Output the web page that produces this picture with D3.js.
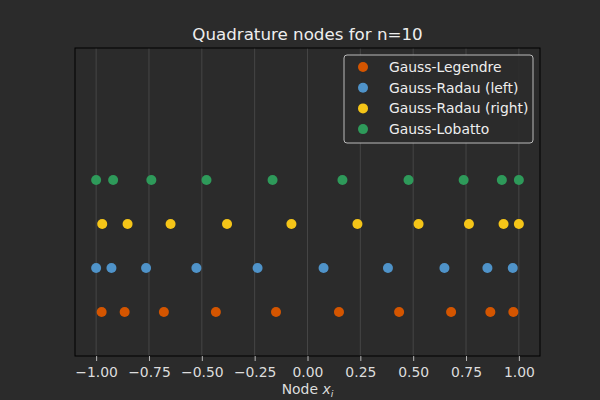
<!DOCTYPE html>
<html>
<head>
<meta charset="utf-8">
<script src="https://cdn.jsdelivr.net/npm/d3@7"></script>
<style>
  html, body { margin: 0; padding: 0; background: #2b2b2b; }
  svg { display: block; font-family: "DejaVu Sans", sans-serif; }
</style>
</head>
<body>
<svg width="600" height="400"></svg>
<script>
const legendreNodes = [-0.9739, -0.8651, -0.6794, -0.4334, -0.1489, 0.1489, 0.4334, 0.6794, 0.8651, 0.9739];
const radauLeftNodes = [-1.0, -0.9275, -0.7638, -0.5256, -0.2362, 0.0761, 0.3807, 0.6478, 0.8512, 0.9712];
const radauRightNodes = [-0.9712, -0.8512, -0.6478, -0.3807, -0.0761, 0.2362, 0.5256, 0.7638, 0.9275, 1.0];
const lobattoNodes = [-1.0, -0.9195, -0.7388, -0.4779, -0.1653, 0.1653, 0.4779, 0.7388, 0.9195, 1.0];

const seriesNames = ['Gauss-Legendre', 'Gauss-Radau (left)', 'Gauss-Radau (right)', 'Gauss-Lobatto'];
const seriesColors = ['#d45500', '#4f93c9', '#f5c518', '#2e9a5a'];
const xTicks = [-1.0, -0.75, -0.5, -0.25, 0.0, 0.25, 0.5, 0.75, 1.0];

const series = [legendreNodes, radauLeftNodes, radauRightNodes, lobattoNodes];

const W = 600, H = 400;
const margin = {left: 75, right: 60, top: 48, bottom: 44};

const svg = d3.select('svg');

const x = d3.scaleLinear().domain([-1.1, 1.1]).range([margin.left, W - margin.right]);
const y = d3.scaleLinear().domain([-1, 6]).range([H - margin.bottom, margin.top]);

// grid
svg.append('g')
  .selectAll('line')
  .data(xTicks)
  .enter()
  .append('line')
  .attr('x1', d => x(d)).attr('x2', d => x(d))
  .attr('y1', margin.top).attr('y2', H - margin.bottom)
  .attr('stroke', '#4d4d4d')
  .attr('stroke-width', 0.8);

// points
series.forEach((nodes, i) => {
  svg.append('g')
    .selectAll('circle')
    .data(nodes)
    .enter()
    .append('circle')
    .attr('cx', d => x(d))
    .attr('cy', y(i))
    .attr('r', 5)
    .attr('fill', seriesColors[i]);
});

// frame
svg.append('rect')
  .attr('x', margin.left).attr('y', margin.top)
  .attr('width', W - margin.left - margin.right)
  .attr('height', H - margin.top - margin.bottom)
  .attr('fill', 'none')
  .attr('stroke', '#000')
  .attr('stroke-width', 1);

// x axis
const xAxis = svg.append('g')
  .attr('transform', `translate(0,${H - margin.bottom})`)
  .call(d3.axisBottom(x).tickValues(xTicks).tickSize(5).tickPadding(6)
    .tickFormat(d => d3.format('.2f')(d).replace('-', '\u2212')));
xAxis.select('.domain').remove();
xAxis.selectAll('line').attr('stroke', '#dddddd').attr('stroke-width', 0.8);
xAxis.selectAll('text').attr('fill', '#dddddd').style('font-size', '13.9px')
  .style('font-family', '"DejaVu Sans", sans-serif');

// x label
const xl = svg.append('text')
  .attr('x', (margin.left + W - margin.right) / 2)
  .attr('y', 394)
  .attr('text-anchor', 'middle')
  .attr('fill', '#dddddd')
  .style('font-size', '13.9px');
xl.append('tspan').text('Node ');
xl.append('tspan').attr('font-style', 'italic').text('x');
xl.append('tspan').attr('font-style', 'italic').attr('dy', 3).style('font-size', '9.5px').text('i');

// title
svg.append('text')
  .attr('x', (margin.left + W - margin.right) / 2)
  .attr('y', 40)
  .attr('text-anchor', 'middle')
  .attr('fill', '#eeeeee')
  .style('font-size', '16.7px')
  .text('Quadrature nodes for n=10');

// legend
const lg = svg.append('g').attr('transform', 'translate(344,55)');
lg.append('rect')
  .attr('width', 189).attr('height', 88)
  .attr('rx', 3)
  .attr('fill', '#2b2b2b')
  .attr('fill-opacity', 0.9)
  .attr('stroke', '#bbbbbb')
  .attr('stroke-width', 1);
const items = lg.selectAll('g.item')
  .data(seriesNames)
  .enter()
  .append('g')
  .attr('transform', (d, i) => `translate(0,${12 + i * 20.7})`);
items.append('circle')
  .attr('cx', 19).attr('cy', 0).attr('r', 5)
  .attr('fill', (d, i) => seriesColors[i]);
items.append('text')
  .attr('x', 45).attr('y', 0)
  .attr('dy', '0.35em')
  .attr('fill', '#eeeeee')
  .style('font-size', '13.9px')
  .text(d => d);
</script>
</body>
</html>
